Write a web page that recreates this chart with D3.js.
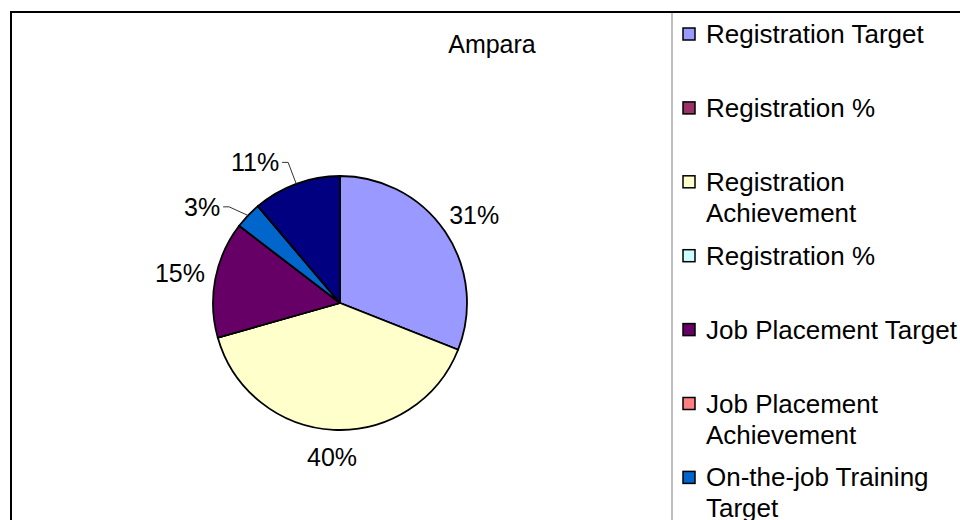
<!DOCTYPE html>
<html>
<head>
<meta charset="utf-8">
<script src="https://cdn.jsdelivr.net/npm/d3@7"></script>
<style>
  body { margin: 0; background: #fff; }
  svg { display: block; font-family: "Liberation Sans", Arial, sans-serif; }
</style>
</head>
<body>
<div id="chart"></div>
<script>
var title = 'Ampara';

var series_names = [
    ['Registration Target'],
    ['Registration %'],
    ['Registration', 'Achievement'],
    ['Registration %'],
    ['Job Placement Target'],
    ['Job Placement', 'Achievement'],
    ['On-the-job Training', 'Target'],
    ['On-the-job Training', 'Achievement'],
    ['Other']
];

var series_values = [31.0, 0, 39.6, 0, 14.8, 0, 3.4, 0, 11.2];

var series_colors = ['#9999FF', '#993366', '#FFFFCC', '#CCFFFF', '#660066',
                     '#FF8080', '#0066CC', '#CCCCFF', '#000080'];

var width = 960;
var height = 520;

var cx = 340, cy = 303, radius = 127;

// small slices get their labels pulled round a bit, like Excel does
var label_shift = [0, 0, 0, 0, 0, 0, -0.134, 0, -0.175];

var svg = d3.select('#chart')
    .append('svg')
    .attr('width', width)
    .attr('height', height);

svg.append('rect')
    .attr('width', width)
    .attr('height', height)
    .attr('fill', '#fff');

// outer chart frame (runs off the right and bottom edge)
svg.append('rect')
    .attr('x', 11)
    .attr('y', 12)
    .attr('width', width + 20)
    .attr('height', height + 20)
    .attr('fill', 'none')
    .attr('stroke', '#000')
    .attr('stroke-width', 2);

svg.append('text')
    .attr('x', 492)
    .attr('y', 53)
    .attr('text-anchor', 'middle')
    .attr('font-size', 25)
    .text(title);

var pie = d3.pie().sort(null).value(function(d) { return d; });
var arcs = pie(series_values);
var total = d3.sum(series_values);

var arc = d3.arc().innerRadius(0).outerRadius(radius);

var g = svg.append('g').attr('transform', 'translate(' + cx + ',' + cy + ')');

g.selectAll('path.slice')
    .data(arcs)
    .enter()
    .append('path')
    .attr('class', 'slice')
    .attr('d', arc)
    .attr('fill', function(d, i) { return series_colors[i]; })
    .attr('stroke', '#000')
    .attr('stroke-width', 1.8)
    .attr('stroke-linejoin', 'round');

var labelled = arcs.filter(function(d) { return d.value > 0; });

labelled.forEach(function(d) {
    var mid = (d.startAngle + d.endAngle) / 2;
    var shifted = label_shift[d.index] !== 0;
    var a = mid + label_shift[d.index];
    var label_r = shifted ? radius + 40 : radius + 32;
    var lx = Math.sin(a) * (label_r + 4 * Math.abs(Math.sin(a)));
    var ly = -Math.cos(a) * (label_r - 5 * Math.abs(Math.cos(a)));
    var txt = g.append('text')
        .attr('x', lx)
        .attr('y', ly)
        .attr('text-anchor', 'middle')
        .attr('dominant-baseline', 'central')
        .attr('font-size', 25)
        .text(Math.round(d.value / total * 100) + '%');

    if (shifted) {
        var bb = txt.node().getBBox();
        var ex = Math.sin(mid) * radius;
        var ey = -Math.cos(mid) * radius;
        var sx = bb.x + bb.width + 3;
        g.append('polyline')
            .attr('points', [[sx, ly], [sx + 6, ly], [ex, ey]].map(function(p) {
                return p.join(','); }).join(' '))
            .attr('fill', 'none')
            .attr('stroke', '#333')
            .attr('stroke-width', 1);
    }
});

// legend box
var legend_x = 672, legend_y = 12;
svg.append('rect')
    .attr('x', legend_x)
    .attr('y', legend_y)
    .attr('width', 400)
    .attr('height', 600)
    .attr('fill', '#fff')
    .attr('stroke', '#808080')
    .attr('stroke-width', 1);

var y_entry = d3.scaleLinear().domain([0, 1]).range([43, 43 + 73.9]);

var legend = svg.selectAll('g.legend')
    .data(series_names)
    .enter()
    .append('g')
    .attr('class', 'legend')
    .attr('transform', function(d, i) { return 'translate(0,' + y_entry(i) + ')'; });

legend.append('rect')
    .attr('x', 683)
    .attr('y', -15)
    .attr('width', 12)
    .attr('height', 12)
    .attr('fill', function(d, i) { return series_colors[i]; })
    .attr('stroke', '#000')
    .attr('stroke-width', 1.5);

legend.append('text')
    .attr('x', 706)
    .attr('font-size', 26)
    .selectAll('tspan')
    .data(function(d) { return d; })
    .enter()
    .append('tspan')
    .attr('x', 706)
    .attr('y', function(d, i) { return i * 31; })
    .text(function(d) { return d; });

// top frame line is drawn over the legend box
svg.append('line')
    .attr('x1', 11).attr('x2', width)
    .attr('y1', 12).attr('y2', 12)
    .attr('stroke', '#000')
    .attr('stroke-width', 2);
</script>
</body>
</html>
